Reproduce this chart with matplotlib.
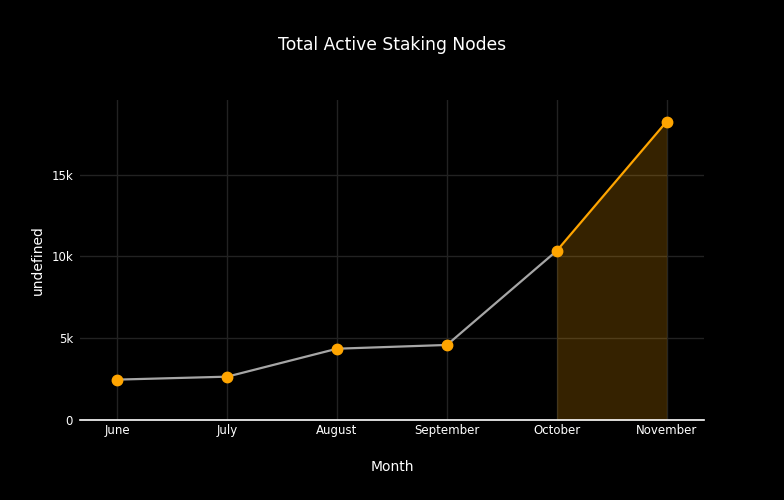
import matplotlib
matplotlib.use("Agg")
import matplotlib.pyplot as plt
from matplotlib.ticker import FuncFormatter

months = ["June", "July", "August", "September", "October", "November"]
nodes = [2470, 2650, 4360, 4590, 10350, 18250]
highlight_start = 4  # October onward is highlighted

plt.rcParams['font.family'] = ['DejaVu Sans']

fig = plt.figure(figsize=(7.84, 5), dpi=100, facecolor='black')
ax = fig.add_axes([80 / 784, 80 / 500, 624 / 784, 320 / 500])
ax.set_facecolor('black')

x = list(range(len(months)))

# shaded highlight under the last segment
hx = x[highlight_start:]
hy = nodes[highlight_start:]
ax.fill_between(hx, 0, hy, color='#FFA500', alpha=0.21, linewidth=0, zorder=1)

ax.plot(x[:highlight_start + 1], nodes[:highlight_start + 1],
        color='#a6a6a6', lw=1.6, zorder=3)
ax.plot(hx, hy, color='#FFA500', lw=1.6, zorder=3)
ax.plot(x, nodes, 'o', color='#FFA500', markersize=7.5, zorder=4)

ax.set_xlim(-0.34, 5.34)
ax.set_ylim(0, 19570)
ax.set_xticks(x)
ax.set_xticklabels(months)
ax.set_yticks([0, 5000, 10000, 15000])
ax.yaxis.set_major_formatter(FuncFormatter(lambda v, p: "0" if v == 0 else f"{int(v/1000)}k"))

ax.grid(True, color='#222222', lw=1)
ax.set_axisbelow(True)
for s in ['top', 'right', 'left']:
    ax.spines[s].set_visible(False)
ax.spines['bottom'].set_color('white')
ax.spines['bottom'].set_linewidth(1.2)
ax.spines['bottom'].set_zorder(2)
ax.tick_params(colors='white', labelsize=8.5, length=0, pad=3)
ax.tick_params(axis='y', pad=5)

ax.set_xlabel("Month", color='white', fontsize=10)
ax.set_ylabel("undefined", color='white', fontsize=10)
ax.xaxis.set_label_coords(0.5, -(460 - 420) / 320)
ax.yaxis.set_label_coords(-(80 - 45) / 624, 0.5)
fig.text(0.5, 1 - 45 / 500, "Total Active Staking Nodes", color='white',
         fontsize=12.3, ha='center', va='center')

fig.savefig("out.png", dpi=100, facecolor='black')
